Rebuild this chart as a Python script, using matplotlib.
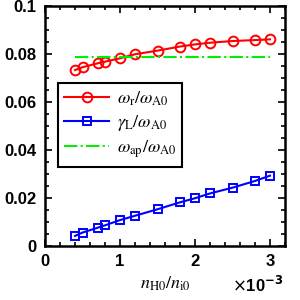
#!/usr/bin/env python3
# -*- coding: utf-8 -*-

import matplotlib
matplotlib.use('Agg')
import matplotlib.pyplot as plt
from matplotlib.ticker import MultipleLocator, FuncFormatter

# n_H0/n_i0 in units of 1e-3
n_ratio = [0.4, 0.5, 0.7, 0.8, 1.0, 1.2, 1.5, 1.8, 2.0, 2.2, 2.5, 2.8, 3.0]
omega_r = [0.0733, 0.0745, 0.0761, 0.0768, 0.0782, 0.0799, 0.0814,
           0.0831, 0.0840, 0.0847, 0.0854, 0.0858, 0.0861]
gamma_L = [0.0042, 0.0056, 0.0076, 0.0086, 0.0108, 0.0126, 0.0153,
           0.0182, 0.0199, 0.0219, 0.0243, 0.0271, 0.0293]
omega_ap = 0.0789

plt.rcParams['font.family'] = ['Liberation Sans', 'DejaVu Sans']
plt.rcParams['mathtext.fontset'] = 'stix'


def main():
    fig = plt.figure(figsize=(3, 3), dpi=100)
    ax = fig.add_axes([0.15, 0.18, 0.80, 0.80])

    ax.plot(n_ratio, omega_r, '-o', color='red', lw=1.5, ms=7,
            mfc='none', mew=1.4, label=r'$\omega_{\rm r}/\omega_{\rm A0}$')
    ax.plot(n_ratio, gamma_L, '-s', color='blue', lw=1.5, ms=5.5,
            mfc='none', mew=1.4, label=r'$\gamma_{\rm L}/\omega_{\rm A0}$')
    ax.plot([0.4, 3.0], [omega_ap, omega_ap], '-.', color='#00ee00', lw=1.5,
            label=r'$\omega_{\rm ap}/\omega_{\rm A0}$')

    ax.set_xlim(0, 3.2)
    ax.set_ylim(0, 0.1)
    ax.xaxis.set_major_locator(MultipleLocator(1))
    ax.xaxis.set_minor_locator(MultipleLocator(0.2))
    ax.yaxis.set_major_locator(MultipleLocator(0.02))
    ax.yaxis.set_minor_locator(MultipleLocator(0.005))
    ax.yaxis.set_major_formatter(FuncFormatter(lambda v, p: '%g' % round(v, 3)))
    ax.xaxis.set_major_formatter(FuncFormatter(lambda v, p: '%g' % v))

    ax.tick_params(which='both', direction='in', top=True, right=True,
                   width=1.2)
    ax.tick_params(which='major', length=5, labelsize=12, pad=6)
    ax.tick_params(which='minor', length=3)
    for lab in ax.get_xticklabels() + ax.get_yticklabels():
        lab.set_fontweight('bold')
    for sp in ax.spines.values():
        sp.set_linewidth(1.8)

    ax.set_xlabel(r'$n_{\rm H0}/n_{\rm i0}$', fontsize=13, labelpad=4)
    fig.text(0.945, 0.017, r'$\times$10$^{\mathbf{-3}}$', ha='right',
             va='bottom', fontsize=12, fontweight='bold',
             math_fontfamily='dejavusans')

    leg = ax.legend(loc='upper left', bbox_to_anchor=(0.054, 0.679),
                    borderaxespad=0, fontsize=13, fancybox=False,
                    edgecolor='black', framealpha=1, handlelength=2.5,
                    labelspacing=0.3, handletextpad=0.4, borderpad=0.35)
    leg.get_frame().set_linewidth(1.5)

    fig.savefig('out.png', dpi=100)


if __name__ == "__main__":
    main()
